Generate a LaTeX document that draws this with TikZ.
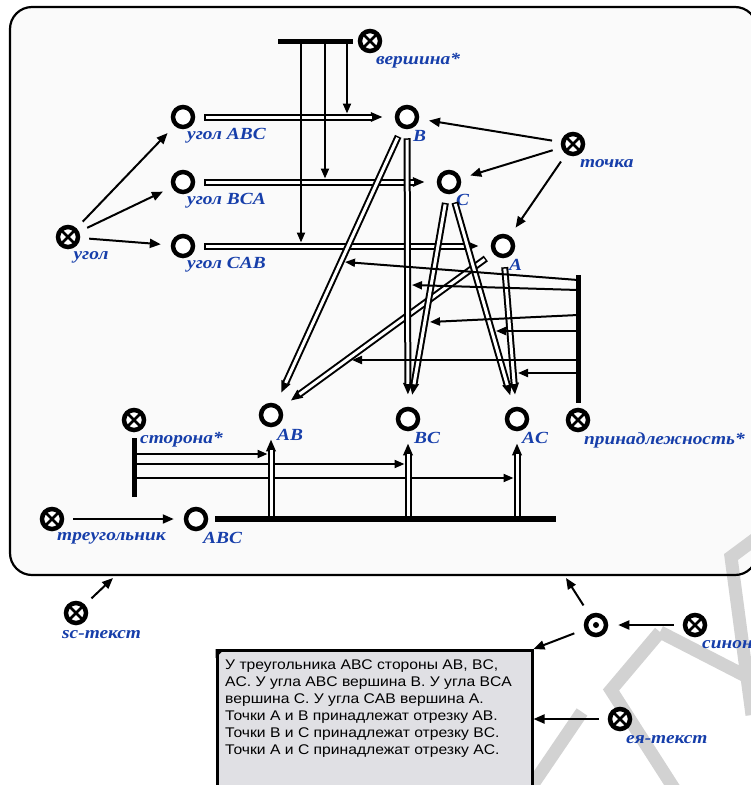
\documentclass[tikz,border=0pt]{standalone}
\usepackage{fontspec}
\setmainfont{Liberation Sans}
\newfontfamily\lblfamily{Liberation Serif}[FakeStretch=1.14]
\newfontfamily\txtfamily{Liberation Sans}[FakeStretch=1.12]
\usetikzlibrary{arrows.meta,calc}
\definecolor{lblblue}{RGB}{22,62,170}
\definecolor{framefill}{RGB}{250,250,250}
\definecolor{boxfill}{RGB}{224,224,228}
\definecolor{wmgray}{RGB}{210,210,210}
\tikzset{
  elem/.style={circle, draw=black, line width=4.5pt, minimum size=20pt, inner sep=0pt, fill=white},
  keynode/.style={elem, path picture={\draw[line width=2.5pt] (path picture bounding box.north west) -- (path picture bounding box.south east) (path picture bounding box.north east) -- (path picture bounding box.south west);}},
  lbl/.style={font=\lblfamily\bfseries\itshape\fontsize{17pt}{17pt}\selectfont, text=lblblue, inner sep=0pt, anchor=west},
  arr/.style={line width=2pt, -{Triangle[length=11pt,width=9pt]}, shorten >=10pt, shorten <=9pt},
  attr/.style={line width=2pt, -{Triangle[length=10pt,width=8pt]}},
  bar/.style={line width=5pt},
  dblout/.style={line width=7pt, -{Triangle[length=12pt,width=9pt]}, shorten >=12pt},
  dblin/.style={line width=3pt, white, shorten >=23pt},
  wm/.style={line width=13pt, wmgray},
  tboxst/.style={draw=black, line width=3pt, fill=boxfill, inner sep=0pt},
}
\newcommand\dblarrow[4]{%
  \draw[dblout, shorten <=#1] #3 -- #4;
  \draw[dblin, shorten <=#2] #3 -- #4;
}
\begin{document}
\begin{tikzpicture}[x=1pt,y=-1pt]
\useasboundingbox (0,0) rectangle (751,785);
\fill[white] (0,0) rectangle (751,785);
\clip (0,0) rectangle (751,785);
% frame and watermark
\fill[framefill, rounded corners=22pt] (10,7) rectangle (757,575);
\draw[wm] (660,632) -- (611,690) -- (675,790);
\draw[wm] (660,632) -- (765,686);
\draw[wm] (529,790) -- (582,712);
\draw[wm] (762,534) -- (731,557) -- (752,715);
\draw[line width=2.2pt, rounded corners=22pt] (10,7) rectangle (757,575);

% nodes
\node[keynode] (vk) at (370,41) {};
\node[elem] (uABC) at (183,117) {};
\node[elem] (uBCA) at (183,182) {};
\node[elem] (uCAB) at (183,246) {};
\node[keynode] (ugol) at (68,237) {};
\node[elem] (B) at (407,117) {};
\node[elem] (C) at (449,182) {};
\node[elem] (A) at (503,246) {};
\node[keynode] (tochka) at (573,144) {};
\node[elem] (AB) at (271,415) {};
\node[elem] (BC) at (408,419) {};
\node[elem] (AC) at (517,419) {};
\node[keynode] (prin) at (578,420) {};
\node[keynode] (stor) at (134,420) {};
\node[keynode] (tri) at (52,519) {};
\node[elem] (ABC) at (196,519) {};
\node[keynode] (sc) at (76,613) {};
\node[elem] (dot) at (596,625) {};
\fill (dot.center) circle (3pt);
\node[keynode] (syn) at (695,625) {};
\node[keynode] (ea) at (620,719) {};

% labels
\node[lbl] (lvk) at (376,61) {вершина*};
\node[lbl] (luABC) at (187,136) {угол ABC};
\node[lbl] (luBCA) at (187,201) {угол BCA};
\node[lbl] (luCAB) at (187,265) {угол CAB};
\node[lbl, anchor=center] (lugol) at (91,257) {угол};
\node[lbl] (lB) at (413,136) {B};
\node[lbl] (lC) at (456,200) {C};
\node[lbl] (lA) at (509,265) {A};
\node[lbl] (ltochka) at (580,164) {точка};
\node[lbl] (lAB) at (277,435) {AB};
\node[lbl] (lBC) at (414,438) {BC};
\node[lbl] (lAC) at (522,438) {AC};
\node[lbl] (lprin) at (584,440) {принадлежность*};
\node[lbl] (lstor) at (140,440) {сторона*};
\node[lbl] (ltri) at (57,538) {треугольник};
\node[lbl] (lABC) at (203,538) {ABC};
\node[lbl] (lsc) at (62,635) {sc-текст};
\node[lbl] (lsyn) at (702,645) {синоним};
\node[lbl] (lea) at (626,740) {ея-текст};

% text box
\node[tboxst, anchor=north west, minimum width=315pt, minimum height=145pt] (tbox) at (215.5,649) {};
\fill (tbox.north west) -- ++(9,0) -- ++(-9,9) -- cycle;
\node[anchor=north west, align=left, inner sep=0pt, font=\txtfamily\fontsize{14pt}{17pt}\selectfont] (ttext) at (225,660)
 {У треугольника ABC стороны AB, BC,\\AC. У угла ABC вершина B. У угла BCA\\вершина C. У угла CAB вершина A.\\Точки A и B принадлежат отрезку AB.\\Точки B и C принадлежат отрезку BC.\\Точки A и C принадлежат отрезку AC.};

% simple arrows
\draw[arr] (ugol) -- (uABC);
\draw[arr] (ugol) -- (uBCA);
\draw[arr] (ugol) -- (uCAB);
\draw[arr] (tochka) -- (B);
\draw[arr] (tochka) -- (C);
\draw[arr] (tochka) -- (A);
\draw[arr] (tri) -- (ABC);
\coordinate (scT) at (113,578);
\draw[arr, shorten >=0pt] (sc) -- (scT);
\coordinate (dotT) at (566,578);
\draw[arr, shorten >=0pt, shorten <=11pt] (dot) -- (dotT);
\draw[arr, shorten >=0pt, shorten <=11pt] (dot) -- (tbox.north east);
\draw[arr] (syn) -- (dot);
\draw[arr, shorten >=0pt] (ea) -- (ea -| tbox.east);

% double arrows
\dblarrow{9pt}{10.5pt}{(uABC)}{(B)}
\dblarrow{9pt}{10.5pt}{(uBCA)}{(C)}
\dblarrow{9pt}{10.5pt}{(uCAB)}{(A)}
\dblarrow{9pt}{10.5pt}{(B)}{(AB)}
\dblarrow{9pt}{10.5pt}{(A)}{(AB)}
\dblarrow{9pt}{10.5pt}{(B)}{(BC)}
\dblarrow{9pt}{10.5pt}{(C)}{(BC)}
\dblarrow{9pt}{10.5pt}{(C)}{(AC)}
\dblarrow{9pt}{10.5pt}{(A)}{(AC)}

% vershina* bar and attribute lines
\coordinate (vbarL) at (278,41);
\draw[bar, shorten <=5pt] (vk) -- (vbarL);
\coordinate (vb1) at (347,41);
\coordinate (vb2) at (325,41);
\coordinate (vb3) at (301,41);
\draw[attr, shorten >=3.5pt] (vb1) -- (vb1 |- uABC);
\draw[attr, shorten >=3.5pt] (vb2) -- (vb2 |- uBCA);
\draw[attr, shorten >=3.5pt] (vb3) -- (vb3 |- uCAB);

% prinadlezhnost* bar and attribute lines
\coordinate (prTop) at (578,275);
\draw[bar, shorten <=5pt] (prin) -- (prTop);
\coordinate (pb1) at (578,280); \coordinate (pt1) at (345,262);
\coordinate (pb2) at (578,290); \coordinate (pt2) at (412,285);
\coordinate (pb3) at (578,315); \coordinate (pt3) at (430,322);
\coordinate (pb4) at (578,331); \coordinate (pt4) at (496,331);
\coordinate (pb5) at (578,360); \coordinate (pt5) at (352,360);
\coordinate (pb6) at (578,373); \coordinate (pt6) at (518,373);
\draw[attr] (pb1) -- (pt1);
\draw[attr] (pb2) -- (pt2);
\draw[attr] (pb3) -- (pt3);
\draw[attr] (pb4) -- (pt4);
\draw[attr] (pb5) -- (pt5);
\draw[attr] (pb6) -- (pt6);

% storona* bar and attribute lines
\coordinate (stEnd) at (134,497);
\draw[bar, shorten <=6pt] (stor) -- (stEnd);
\coordinate (sb1) at (134,454);
\coordinate (sb2) at (134,464);
\coordinate (sb3) at (134,478);
\draw[attr, shorten >=3.5pt] (sb1) -- (sb1 -| AB);
\draw[attr, shorten >=3.5pt] (sb2) -- (sb2 -| BC);
\draw[attr, shorten >=3.5pt] (sb3) -- (sb3 -| AC);

% triangle bar and risers
\coordinate (r1) at (271,519);
\coordinate (r2) at (408,519);
\coordinate (r3) at (517,519);
\dblarrow{0pt}{0pt}{(r1)}{(AB)}
\dblarrow{0pt}{0pt}{(r2)}{(BC)}
\dblarrow{0pt}{0pt}{(r3)}{(AC)}
\coordinate (triEnd) at (556,519);
\draw[bar, line width=6pt, shorten <=7pt] (ABC) -- (triEnd);
\end{tikzpicture}
\end{document}
